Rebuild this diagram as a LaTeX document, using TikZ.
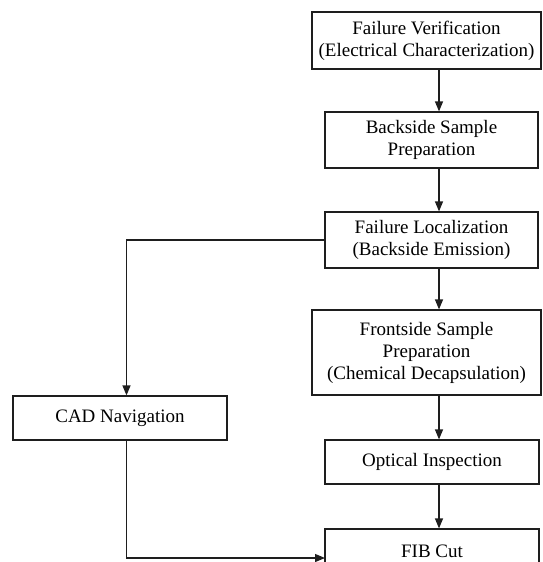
\documentclass[tikz,border=0pt]{standalone}
\usepackage{fontspec}
\setmainfont{Liberation Serif}
\usepackage{tikz}
\usetikzlibrary{arrows.meta, positioning, calc}
\definecolor{mydark}{RGB}{30,30,30}
\tikzset{
  block/.style={rectangle, draw=mydark, fill=white,
    align=center, inner sep=0pt, line width=1.2pt,
    font=\fontsize{19}{22}\selectfont},
  arrow/.style={-{Triangle[length=10pt, width=8pt]}, line width=1.2pt, color=mydark},
  line/.style={line width=1.2pt, color=mydark}
}

\begin{document}
\begin{tikzpicture}[x=1pt, y=-1pt]
  \useasboundingbox (0,0) rectangle (542,562);

  % --- MAIN FLOW (right column) ---
  \node[block, minimum width=229pt, minimum height=57pt] (verify) at (426.5,40.5) {Failure Verification\\(Electrical Characterization)};
  \node[block, minimum width=213pt, minimum height=56pt] (backprep) at (431.5,140) {Backside Sample\\Preparation};
  \node[block, minimum width=213pt, minimum height=56pt] (localize) at (431.5,240) {Failure Localization\\(Backside Emission)};
  \node[block, minimum width=229pt, minimum height=85pt] (frontprep) at (426.5,352.5) {Frontside Sample\\Preparation\\(Chemical Decapsulation)};
  \node[block, minimum width=214pt, minimum height=44pt] (optical) at (432,462) {Optical Inspection};
  \node[block, minimum width=214pt, minimum height=44pt] (fib) at (432,551) {FIB Cut};

  % --- SIDE BRANCH ---
  \node[block, minimum width=214pt, minimum height=44pt] (cad) at (120,418) {CAD Navigation};

  \coordinate (col) at (439,0);
  \coordinate (side) at (126.5,0);
  \coordinate (fibin) at (325,558);

  \draw[arrow] (verify.south -| col) -- (backprep.north -| col);
  \draw[arrow] (backprep.south -| col) -- (localize.north -| col);
  \draw[arrow] (localize.south -| col) -- (frontprep.north -| col);
  \draw[arrow] (frontprep.south -| col) -- (optical.north -| col);
  \draw[arrow] (optical.south -| col) -- (fib.north -| col);

  \draw[arrow] (localize.west) -| (cad.north -| side);
  \draw[arrow] (cad.south -| side) |- (fibin);
\end{tikzpicture}
\end{document}
